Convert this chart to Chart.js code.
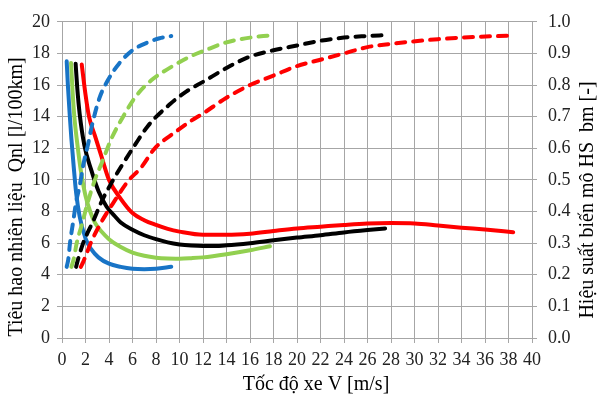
<!DOCTYPE html>
<html lang="vi">

<head>
  <meta charset="UTF-8" />
  <title>Tieu hao nhien lieu</title>
  <style>
    * {
      margin: 0;
      padding: 0;
    }

    body {
      background: #fff;
    }

    .chartBox {
      width: 599px;
      height: 400px;
    }
  </style>
</head>

<body>
  <div class="chartBox">
    <canvas id="myChart" width="599" height="400"></canvas>
  </div>
  <script src="https://cdn.jsdelivr.net/npm/chart.js@4.4.1/dist/chart.umd.min.js"></script>
  <script>
    // toc do V [m/s] va tieu hao Qnl [l/100km] - duong lien
    const vBlueQ = [0.4, 0.5, 0.65, 0.8, 1.0, 1.2, 1.5, 2.0, 2.5, 3.1, 4.0, 5.0, 6.0, 7.0, 8.0, 9.3];
    const qBlue = [17.5, 16.0, 14.2, 12.6, 10.8, 9.2, 7.7, 6.3, 5.6, 5.1, 4.7, 4.5, 4.38, 4.35, 4.38, 4.5];

    const vGreenQ = [0.77, 0.9, 1.05, 1.3, 1.6, 2.0, 2.4, 2.8, 3.4, 4.0, 5.0, 6.0, 7.0, 8.0, 9.0, 10.0, 11.0, 12.0, 14.0, 16.0, 17.7];
    const qGreen = [17.4, 15.6, 14.0, 12.3, 10.6, 9.0, 8.0, 7.3, 6.7, 6.25, 5.75, 5.4, 5.2, 5.08, 5.03, 5.02, 5.05, 5.1, 5.3, 5.55, 5.8];

    const vBlackQ = [1.16, 1.3, 1.5, 1.9, 2.5, 3.1, 3.8, 4.5, 5.0, 6.0, 7.0, 8.0, 9.0, 10.0, 11.0, 12.0, 13.0, 14.0, 16.0, 18.0, 20.0, 22.0, 24.0, 26.0, 27.5];
    const qBlack = [17.35, 15.8, 14.2, 12.2, 10.6, 9.3, 8.3, 7.7, 7.3, 6.85, 6.5, 6.25, 6.05, 5.92, 5.85, 5.82, 5.82, 5.86, 6.0, 6.18, 6.35, 6.5, 6.68, 6.83, 6.93];

    const vRedQ = [1.68, 2.0, 2.3, 2.8, 3.35, 4.0, 5.0, 6.0, 7.0, 8.0, 9.0, 10.0, 12.0, 14.0, 16.0, 18.0, 20.0, 22.0, 24.0, 26.0, 28.0, 30.0, 32.0, 34.0, 36.0, 38.4];
    const qRed = [17.3, 15.4, 14.0, 12.8, 11.5, 10.0, 8.8, 7.9, 7.45, 7.15, 6.9, 6.73, 6.53, 6.53, 6.6, 6.77, 6.93, 7.04, 7.15, 7.24, 7.27, 7.25, 7.12, 6.98, 6.86, 6.69];

    // hieu suat bien mo [-] - duong net dut
    const vBlueE = [0.4, 0.54, 0.68, 0.96, 1.2, 1.5, 1.8, 2.2, 2.6, 3.2, 3.9, 4.9, 6.0, 7.3, 8.3, 9.3];
    const eBlue = [0.225, 0.25, 0.3, 0.37, 0.43, 0.48, 0.545, 0.61, 0.68, 0.76, 0.815, 0.87, 0.91, 0.935, 0.948, 0.955];

    const vGreenE = [0.8, 1.0, 1.25, 1.7, 2.2, 2.8, 3.4, 4.2, 5.2, 6.3, 7.6, 9.2, 10.9, 12.2, 14.0, 16.0, 17.7];
    const eGreen = [0.225, 0.25, 0.3, 0.36, 0.43, 0.5, 0.555, 0.63, 0.7, 0.765, 0.815, 0.855, 0.89, 0.91, 0.935, 0.95, 0.957];

    const vBlackE = [1.2, 1.3, 1.8, 2.66, 3.35, 4.2, 5.0, 6.2, 7.3, 9.2, 10.6, 12.0, 14.3, 16.0, 18.0, 20.0, 22.0, 24.0, 26.0, 27.5];
    const eBlack = [0.225, 0.24, 0.3, 0.37, 0.43, 0.49, 0.54, 0.61, 0.67, 0.74, 0.78, 0.81, 0.86, 0.89, 0.91, 0.925, 0.94, 0.95, 0.955, 0.958];

    const vRedE = [1.6, 1.8, 2.5, 3.4, 4.5, 5.6, 6.75, 7.9, 9.6, 10.9, 12.0, 14.0, 16.0, 18.0, 20.0, 22.0, 24.0, 26.0, 28.0, 32.0, 35.0, 38.1];
    const eRed = [0.225, 0.24, 0.305, 0.37, 0.435, 0.495, 0.54, 0.6, 0.65, 0.685, 0.71, 0.76, 0.8, 0.83, 0.86, 0.88, 0.9, 0.92, 0.93, 0.945, 0.952, 0.956];

    const blue = "#1874c6";
    const green = "#92d050";
    const black = "#000000";
    const red = "#ff0000";
    const gridColor = "#a6a6a6";
    const fontFamily = "'Liberation Serif', 'Times New Roman', serif";

    function pts(xs, ys) {
      return xs.map(function (x, i) {
        return { x: x, y: ys[i] };
      });
    }

    function line(xs, ys, color, axis, dashed) {
      return {
        data: pts(xs, ys),
        yAxisID: axis,
        borderColor: color,
        borderWidth: 4,
        borderDash: dashed ? [9, 8] : [],
        borderCapStyle: "round",
        pointRadius: 0,
        cubicInterpolationMode: "monotone",
        fill: false,
      };
    }

    const data = {
      datasets: [
        line(vBlueE, eBlue, blue, "y1", true),
        line(vGreenE, eGreen, green, "y1", true),
        line(vBlackE, eBlack, black, "y1", true),
        line(vRedE, eRed, red, "y1", true),
        line(vBlueQ, qBlue, blue, "y", false),
        line(vGreenQ, qGreen, green, "y", false),
        line(vBlackQ, qBlack, black, "y", false),
        line(vRedQ, qRed, red, "y", false),
      ],
    };

    // tieu de truc, ve tay de giong hinh goc (ca hai truc doc deu xoay -90)
    const axisTitles = {
      id: "axisTitles",
      afterDraw: function (chart) {
        const ctx = chart.ctx;
        ctx.save();
        ctx.fillStyle = "#000";
        ctx.font = "20px " + fontFamily;
        ctx.textAlign = "center";
        ctx.textBaseline = "middle";
        ctx.fillText("Tốc độ xe V [m/s]", 316, 385);

        ctx.translate(17, 197);
        ctx.rotate(-Math.PI / 2);
        ctx.fillText("Tiêu hao nhiên liệu  Qnl [l/100km]", 0, 0);
        ctx.restore();

        ctx.save();
        ctx.fillStyle = "#000";
        ctx.font = "20px " + fontFamily;
        ctx.textAlign = "center";
        ctx.textBaseline = "middle";
        ctx.translate(588, 200);
        ctx.rotate(-Math.PI / 2);
        ctx.fillText("Hiệu suất biến mô HS  bm [-]", 0, 0);
        ctx.restore();
      },
    };

    const tickFont = { family: fontFamily, size: 18 };

    const options = {
      responsive: false,
      animation: false,
      layout: {
        padding: { top: 17, left: 0, right: 0, bottom: 0 },
      },
      plugins: {
        legend: { display: false },
        tooltip: { enabled: false },
      },
      scales: {
        x: {
          type: "linear",
          min: 0,
          max: 40,
          afterFit: function (scale) {
            scale.height = 62;
          },
          ticks: {
            stepSize: 2,
            font: tickFont,
            color: "#222",
            padding: 6,
            maxRotation: 0,
          },
          grid: { color: gridColor, tickLength: 5 },
          border: { color: gridColor },
        },
        y: {
          position: "left",
          min: 0,
          max: 20,
          afterFit: function (scale) {
            scale.width = 62;
          },
          ticks: {
            stepSize: 2,
            font: tickFont,
            color: "#222",
            padding: 7,
          },
          grid: { color: gridColor, tickLength: 5 },
          border: { color: gridColor },
        },
        y1: {
          position: "right",
          min: 0,
          max: 1,
          afterFit: function (scale) {
            scale.width = 67;
          },
          ticks: {
            stepSize: 0.1,
            font: tickFont,
            color: "#222",
            padding: 11,
            callback: function (value) {
              return value.toFixed(1);
            },
          },
          grid: { color: gridColor, tickLength: 5, drawOnChartArea: false },
          border: { color: gridColor },
        },
      },
    };

    const config = {
      type: "line",
      data: data,
      options: options,
      plugins: [axisTitles],
    };

    const ctx = document.getElementById("myChart").getContext("2d");
    const myChart = new Chart(ctx, config);
  </script>
</body>

</html>
